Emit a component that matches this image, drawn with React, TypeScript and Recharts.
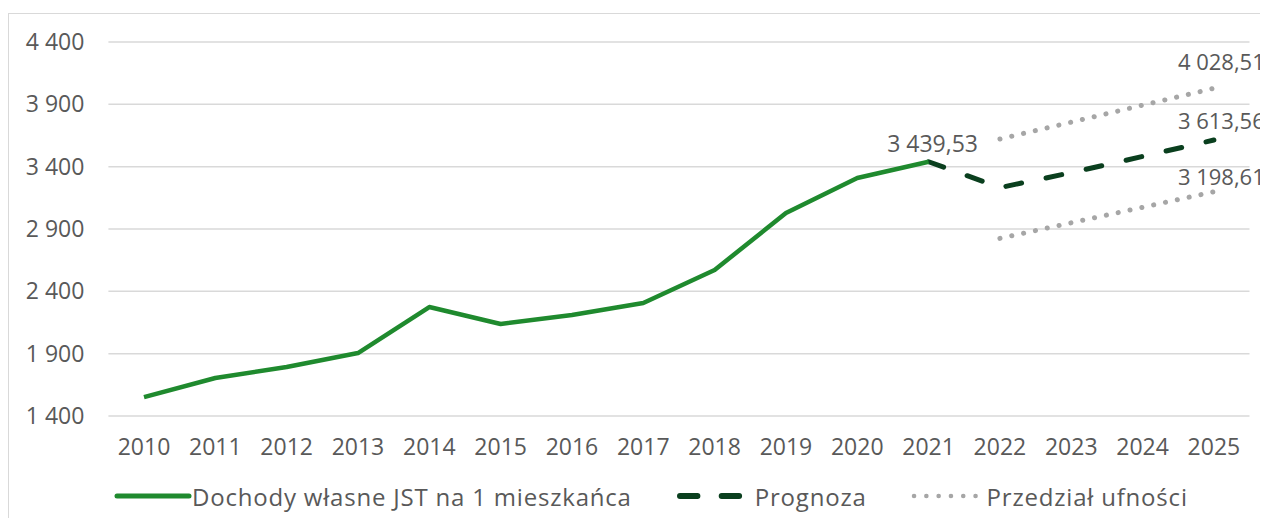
import React from 'react';
import {
  LineChart,
  Line,
  XAxis,
  YAxis,
  CartesianGrid,
  Legend,
  LabelList,
} from 'recharts';

const years = ['2010', '2011', '2012', '2013', '2014', '2015', '2016', '2017', '2018', '2019', '2020', '2021', '2022', '2023', '2024', '2025'];
const actual = [1552, 1705, 1793, 1905, 2274, 2138, 2210, 2306, 2571, 3028, 3309, 3439.53, null, null, null, null];
const forecast = [null, null, null, null, null, null, null, null, null, null, null, 3439.53, 3232, 3352, 3482, 3613.56];
const upper = [null, null, null, null, null, null, null, null, null, null, null, null, 3622, 3757, 3893, 4028.51];
const lower = [null, null, null, null, null, null, null, null, null, null, null, null, 2825, 2950, 3074, 3198.61];
const yTicks = [1400, 1900, 2400, 2900, 3400, 3900, 4400];

const FONT = "'Open Sans', sans-serif";
const TEXT = '#595959';
const GREEN = '#1f8a2e';
const DARK = '#0a3f1e';
const GREY = '#a6a6a6';

const data = years.map((y, i) => ({
  year: y,
  actual: actual[i],
  forecast: forecast[i],
  upper: upper[i],
  lower: lower[i],
}));

function groupInt(n: number) {
  return String(n).replace(/\B(?=(\d{3})+(?!\d))/g, ' ');
}

function fmtValue(v: number) {
  const [a, b] = v.toFixed(2).split('.');
  return `${groupInt(Number(a))},${b}`;
}

// only label one point of a series
function pointLabel(target: number, dx: number, dy: number, anchor: 'start' | 'middle', size: number) {
  return (props: any) => {
    const { x, y, index, value } = props;
    if (index !== target || value == null) return null;
    return (
      <text x={x + dx} y={y + dy} fill={TEXT} fontSize={size} fontFamily={FONT} textAnchor={anchor} dominantBaseline="central">
        {fmtValue(Number(value))}
      </text>
    );
  };
}

function ChartLegend() {
  const item = { display: 'flex', alignItems: 'center' } as const;
  const label = { color: TEXT, fontSize: 24, fontFamily: FONT, letterSpacing: 0.8, whiteSpace: 'nowrap' } as const;
  return (
    <div style={{ display: 'flex', alignItems: 'center', height: 34, paddingLeft: 105 }}>
      <div style={item}>
        <svg width={78} height={10}>
          <line x1={3} y1={5} x2={75} y2={5} stroke={GREEN} strokeWidth={5} strokeLinecap="round" />
        </svg>
        <span style={label}>Dochody własne JST na 1 mieszkańca</span>
      </div>
      <div style={{ ...item, marginLeft: 45 }}>
        <svg width={78} height={10}>
          <line x1={3} y1={5} x2={68} y2={5} stroke={DARK} strokeWidth={6} strokeLinecap="round" strokeDasharray="17.4 24.3" />
        </svg>
        <span style={label}>Prognoza</span>
      </div>
      <div style={{ ...item, marginLeft: 44 }}>
        <svg width={76} height={10}>
          <line x1={3} y1={5} x2={65} y2={5} stroke={GREY} strokeWidth={4.5} strokeLinecap="round" strokeDasharray="0.1 12.2" />
        </svg>
        <span style={label}>Przedział ufności</span>
      </div>
    </div>
  );
}

export default function App() {
  return (
    <div
      style={{
        marginTop: 5,
        width: 1258,
        height: 504,
        borderTop: '1px solid #d9d9d9',
        borderLeft: '1px solid #d9d9d9',
        background: '#fff',
      }}
    >
      <LineChart width={1258} height={504} data={data} margin={{ top: 28, right: 17.5, left: 0, bottom: 28 }}>
        <CartesianGrid vertical={false} stroke="#d9d9d9" strokeWidth={1.5} />
        <XAxis
          dataKey="year"
          axisLine={false}
          tickLine={false}
          tickMargin={17}
          height={40}
          padding={{ left: 35.6, right: 35.6 }}
          tick={{ fill: TEXT, fontSize: 23, fontFamily: FONT }}
          interval={0}
        />
        <YAxis
          domain={[1400, 4400]}
          ticks={yTicks}
          axisLine={false}
          tickLine={false}
          width={99.4}
          tickMargin={18}
          tickFormatter={(v: number) => groupInt(v)}
          tick={{ fill: TEXT, fontSize: 23, fontFamily: FONT }}
        />
        <Legend verticalAlign="bottom" content={() => <ChartLegend />} wrapperStyle={{ top: 465, bottom: 'auto', left: 0, width: 1258 }} />
        <Line
          dataKey="upper"
          name="Przedział ufności"
          stroke={GREY}
          strokeWidth={5}
          strokeLinecap="round"
          strokeDasharray="0.1 12"
          dot={false}
          isAnimationActive={false}
        >
          <LabelList dataKey="upper" content={pointLabel(15, -36, -27, 'start', 22)} />
        </Line>
        <Line
          dataKey="lower"
          name="Przedział ufności dolny"
          stroke={GREY}
          strokeWidth={5}
          strokeLinecap="round"
          strokeDasharray="0.1 12"
          dot={false}
          legendType="none"
          isAnimationActive={false}
        >
          <LabelList dataKey="lower" content={pointLabel(15, -36, -16, 'start', 22)} />
        </Line>
        <Line
          dataKey="forecast"
          name="Prognoza"
          stroke={DARK}
          strokeWidth={5}
          strokeLinecap="round"
          strokeDasharray="16 25"
          dot={false}
          isAnimationActive={false}
        >
          <LabelList dataKey="forecast" content={pointLabel(15, -36, -20, 'start', 22)} />
        </Line>
        <Line
          dataKey="actual"
          name="Dochody własne JST na 1 mieszkańca"
          stroke={GREEN}
          strokeWidth={4.5}
          strokeLinejoin="round"
          dot={false}
          isAnimationActive={false}
        >
          <LabelList dataKey="actual" content={pointLabel(11, 4, -19, 'middle', 23)} />
        </Line>
      </LineChart>
    </div>
  );
}
